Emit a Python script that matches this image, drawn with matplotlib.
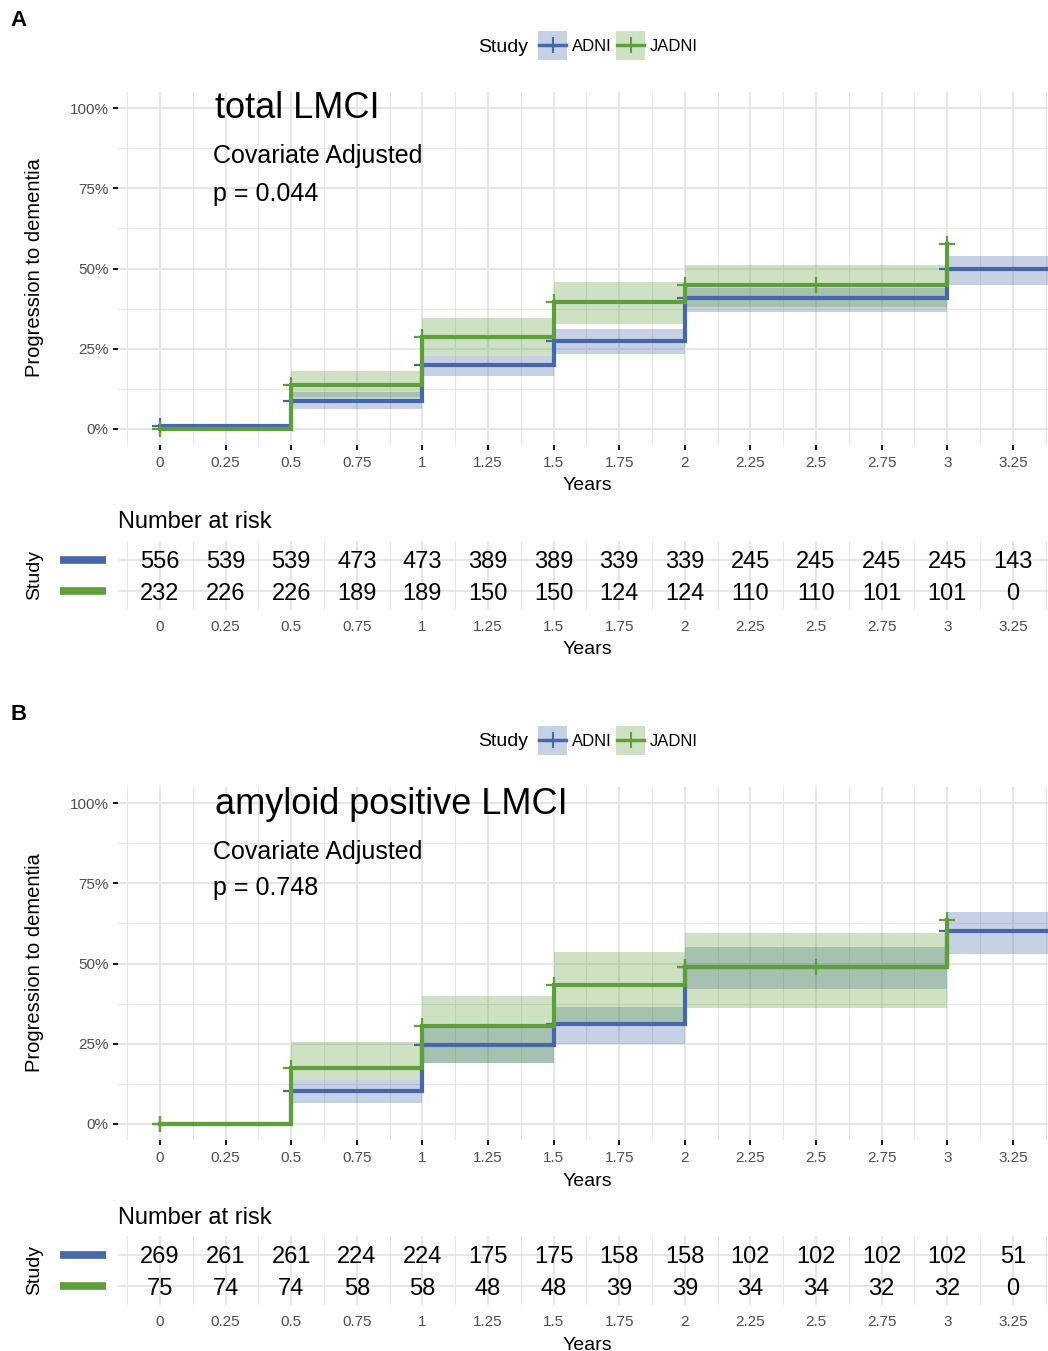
import numpy as np
import matplotlib
matplotlib.use('Agg')
import matplotlib.pyplot as plt
from matplotlib.patches import Rectangle
from matplotlib.lines import Line2D
import matplotlib.transforms as mtrans

plt.rcParams['font.family'] = ['Liberation Sans', 'DejaVu Sans']

W, H = 1048, 1351
BLUE = '#4767AC'
GREEN = '#5E9E3B'
GRID = '#E6E6E6'
TICKCOL = '#4D4D4D'

# panel A: total LMCI (cumulative progression, step times in years)
a_adni_t = [0, 0.5, 1, 1.5, 2, 3, 3.4]
a_adni_s = [0.01, 0.088, 0.20, 0.274, 0.408, 0.497, 0.497]
a_adni_lo = [0.01, 0.062, 0.165, 0.233, 0.363, 0.45, 0.45]
a_adni_hi = [0.01, 0.115, 0.227, 0.31, 0.44, 0.54, 0.54]
a_adni_cens = [0, 0.5, 1, 1.5, 2, 3]

a_jadni_t = [0, 0.5, 1, 1.5, 2, 3]
a_jadni_s = [0.0, 0.137, 0.287, 0.397, 0.45, 0.577]
a_jadni_lo = [0.0, 0.10, 0.227, 0.326, 0.38, 0.38]
a_jadni_hi = [0.0, 0.18, 0.345, 0.457, 0.512, 0.512]
a_jadni_cens = [0, 0.5, 1, 1.5, 2, 2.5, 3]

# panel B: amyloid positive LMCI
b_adni_t = [0, 0.5, 1, 1.5, 2, 3, 3.4]
b_adni_s = [0.0, 0.103, 0.247, 0.31, 0.49, 0.60, 0.60]
b_adni_lo = [0.0, 0.066, 0.19, 0.25, 0.42, 0.53, 0.53]
b_adni_hi = [0.0, 0.137, 0.30, 0.366, 0.55, 0.66, 0.66]
b_adni_cens = [0, 0.5, 1, 1.5, 2, 3]

b_jadni_t = [0, 0.5, 1, 1.5, 2, 3]
b_jadni_s = [0.0, 0.175, 0.304, 0.434, 0.49, 0.636]
b_jadni_lo = [0.0, 0.137, 0.19, 0.31, 0.36, 0.36]
b_jadni_hi = [0.0, 0.256, 0.40, 0.537, 0.596, 0.596]
b_jadni_cens = [0, 0.5, 1, 1.5, 2, 2.5, 3]

# number at risk
risk_t = [0, 0.25, 0.5, 0.75, 1, 1.25, 1.5, 1.75, 2, 2.25, 2.5, 2.75, 3, 3.25]
risk_labels = ['0', '0.25', '0.5', '0.75', '1', '1.25', '1.5', '1.75', '2',
               '2.25', '2.5', '2.75', '3', '3.25']
a_adni_risk = [556, 539, 539, 473, 473, 389, 389, 339, 339, 245, 245, 245, 245, 143]
a_jadni_risk = [232, 226, 226, 189, 189, 150, 150, 124, 124, 110, 110, 101, 101, 0]
b_adni_risk = [269, 261, 261, 224, 224, 175, 175, 158, 158, 102, 102, 102, 102, 51]
b_jadni_risk = [75, 74, 74, 58, 58, 48, 48, 39, 39, 34, 34, 32, 32, 0]

y_ticks = [0, 0.25, 0.5, 0.75, 1.0]
y_labels = ['0%', '25%', '50%', '75%', '100%']

XLIM = (-0.16, 3.384)
fig = plt.figure(figsize=(W / 100, H / 100), dpi=100)


def axes_px(left, top, right, bottom):
    return fig.add_axes([left / W, 1 - bottom / H, (right - left) / W, (bottom - top) / H])


def ftext(x, y, s, **kw):
    fig.text(x / W, 1 - y / H, s, **kw)


def level_at(t, s, tc):
    idx = np.searchsorted(np.array(t), np.array(tc), side='right') - 1
    return np.array(s)[idx]


def setup_grid(ax):
    ax.set_xlim(*XLIM)
    ax.set_xticks(risk_t)
    ax.set_xticks(np.arange(-0.125, 3.4, 0.25), minor=True)
    ax.grid(which='major', color=GRID, lw=1.5)
    ax.grid(which='minor', color=GRID, lw=0.8)
    ax.tick_params(which='minor', length=0)
    for sp in ax.spines.values():
        sp.set_visible(False)
    ax.set_axisbelow(True)


def draw_panel(off, letter, title, pval, adni, jadni, adni_risk, jadni_risk):
    ftext(10, 20 + off, letter, fontsize=16, fontweight='bold', va='center')

    # legend
    ftext(478, 45 + off, 'Study', fontsize=14, va='center_baseline')
    for x0, col, lab in [(538, BLUE, 'ADNI'), (616, GREEN, 'JADNI')]:
        fig.add_artist(Rectangle((x0 / W, 1 - (60 + off) / H), 29 / W, 29 / H,
                                 transform=fig.transFigure, facecolor=col,
                                 alpha=0.3, edgecolor='none'))
        fig.add_artist(Line2D([(x0 + 1) / W, (x0 + 28) / W],
                              [1 - (45 + off) / H] * 2, transform=fig.transFigure,
                              color=col, lw=2.5))
        fig.add_artist(Line2D([(x0 + 14.5) / W] * 2,
                              [1 - (38 + off) / H, 1 - (52 + off) / H],
                              transform=fig.transFigure, color=col, lw=1.5))
        ftext(x0 + 34, 45 + off, lab, fontsize=12, va='center_baseline')

    # main plot
    ax = axes_px(118, 92 + off, 1048, 445 + off)
    setup_grid(ax)
    ax.set_ylim(-0.05, 1.05)
    ax.set_yticks(y_ticks)
    ax.set_yticks(np.arange(0.125, 1.0, 0.25), minor=True)
    ax.set_yticklabels(y_labels)
    ax.set_xticklabels(risk_labels)
    ax.tick_params(which='major', length=3.8, width=1.3, color='black',
                   labelsize=11, labelcolor=TICKCOL, pad=3)
    ax.tick_params(axis='x', which='major', pad=4)

    for (t, s, lo, hi, cens), col, z in [(adni, BLUE, 2), (jadni, GREEN, 3)]:
        ax.fill_between(t, lo, hi, step='post', color=col, alpha=0.3,
                        lw=0, zorder=z)
    for (t, s, lo, hi, cens), col, z in [(adni, BLUE, 4), (jadni, GREEN, 5)]:
        ax.step(t, s, where='post', color=col, lw=3, zorder=z,
                solid_joinstyle='miter')
        ax.plot(cens, level_at(t, s, cens), ls='none', marker='+', ms=12,
                mew=1.6, color=col, zorder=z)

    ftext(587, 484 + off, 'Years', fontsize=14, ha='center', va='center_baseline')
    ftext(35, 268 + off, 'Progression to dementia', fontsize=14.5,
          rotation=90, ha='center', va='center')
    ftext(215, 105 + off, title, fontsize=26, va='center_baseline')
    ftext(213, 154 + off, 'Covariate Adjusted', fontsize=18, va='center_baseline')
    ftext(213, 191 + off, pval, fontsize=18, va='center_baseline')

    # risk table
    ftext(118, 520 + off, 'Number at risk', fontsize=17, va='center_baseline')
    rt = axes_px(118, 541 + off, 1048, 610 + off)
    setup_grid(rt)
    rt.set_ylim(0.4, 2.6)
    rt.set_yticks([1, 2])
    rt.set_yticklabels([])
    rt.tick_params(axis='y', length=0)
    rt.set_xticklabels(risk_labels)
    rt.tick_params(axis='x', which='major', length=0, labelsize=11,
                   labelcolor=TICKCOL, pad=7)
    for xv, a, j in zip(risk_t, adni_risk, jadni_risk):
        rt.text(xv, 2, str(a), fontsize=17, ha='center', va='center_baseline')
        rt.text(xv, 1, str(j), fontsize=17, ha='center', va='center_baseline')
    tr = mtrans.blended_transform_factory(rt.transAxes, rt.transData)
    for yv, col in [(2, BLUE), (1, GREEN)]:
        rt.plot([-0.0624, -0.0129], [yv, yv], transform=tr, color=col,
                lw=5.5, clip_on=False, solid_capstyle='butt')
    ftext(35, 575 + off, 'Study', fontsize=14, rotation=90,
          ha='center', va='center')
    ftext(587, 648 + off, 'Years', fontsize=14, ha='center', va='center_baseline')


draw_panel(0, 'A', 'total LMCI', 'p = 0.044',
           (a_adni_t, a_adni_s, a_adni_lo, a_adni_hi, a_adni_cens),
           (a_jadni_t, a_jadni_s, a_jadni_lo, a_jadni_hi, a_jadni_cens),
           a_adni_risk, a_jadni_risk)
draw_panel(695, 'B', 'amyloid positive LMCI', 'p = 0.748',
           (b_adni_t, b_adni_s, b_adni_lo, b_adni_hi, b_adni_cens),
           (b_jadni_t, b_jadni_s, b_jadni_lo, b_jadni_hi, b_jadni_cens),
           b_adni_risk, b_jadni_risk)

fig.savefig('out.png', dpi=100)
